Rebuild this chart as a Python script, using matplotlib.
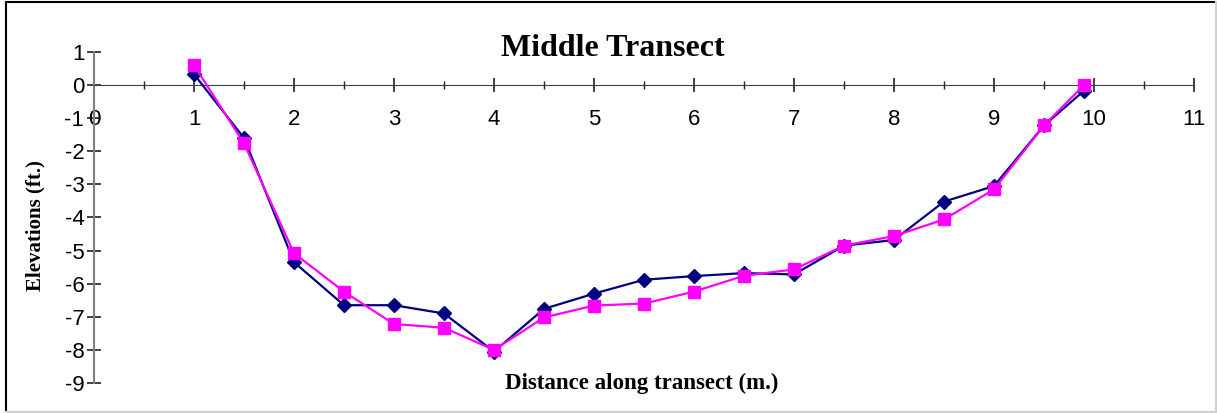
import numpy as np
import matplotlib
matplotlib.use("Agg")
import matplotlib.pyplot as plt
from matplotlib.ticker import MultipleLocator
from matplotlib.lines import Line2D

plt.rcParams["axes.unicode_minus"] = False

# distance along transect (m.)
dist = [1, 1.5, 2, 2.5, 3, 3.5, 4, 4.5, 5, 5.5, 6, 6.5, 7, 7.5, 8, 8.5, 9, 9.5, 9.9]
# two elevation surveys (ft.)
elev_a = [0.33, -1.6, -5.35, -6.65, -6.65, -6.9, -8.05, -6.76, -6.3, -5.88,
          -5.77, -5.68, -5.72, -4.85, -4.68, -3.52, -3.05, -1.22, -0.17]
elev_b = [0.6, -1.76, -5.08, -6.24, -7.22, -7.33, -8.0, -7.02, -6.66, -6.6,
          -6.24, -5.76, -5.57, -4.85, -4.56, -4.06, -3.15, -1.22, 0.0]

x_ticks = list(range(0, 12))
y_ticks = list(range(-9, 2))

fig = plt.figure(figsize=(12.17, 4.13), dpi=100)
ax = fig.add_axes([94 / 1217, 1 - 383 / 413, 1100 / 1217, 331 / 413])

ax.plot(dist, elev_a, color="#000080", marker="D", markersize=7.5, lw=1.6, zorder=3)
ax.plot(dist, elev_b, color="#FF00FF", marker="s", markersize=8.5, lw=1.6, zorder=4)

ax.set_xlim(0, 11)
ax.set_ylim(-9, 1)
ax.spines["top"].set_visible(False)
ax.spines["right"].set_visible(False)
ax.spines["bottom"].set_position(("data", 0))
ax.spines["bottom"].set_color("#404040")
ax.spines["left"].set_color("#808080")
ax.spines["left"].set_linewidth(1.5)

ax.set_xticks(x_ticks)
ax.set_yticks(y_ticks)
ax.xaxis.set_minor_locator(MultipleLocator(0.5))
ax.tick_params(axis="x", which="major", direction="inout", length=10, width=1.2,
               labelsize=16, pad=12, color="#202020")
ax.tick_params(axis="x", which="minor", direction="inout", length=6, width=1,
               color="#202020")
ax.tick_params(axis="y", which="major", direction="inout", length=10, width=1.2,
               labelsize=16, pad=2, color="#202020")
for lab in ax.get_xticklabels() + ax.get_yticklabels():
    lab.set_family("Liberation Sans")

fig.text(613 / 1217, 1 - 49 / 413, "Middle Transect", ha="center", va="center",
         family="Liberation Serif", weight="bold", fontsize=23)
fig.text(642 / 1217, 1 - 383 / 413, "Distance along transect (m.)", ha="center",
         va="center", family="Liberation Serif", weight="bold", fontsize=16.5)
fig.text(35 / 1217, 1 - 226 / 413, "Elevations (ft.)", ha="center", va="center",
         rotation=90, family="Liberation Serif", weight="bold", fontsize=15)

# frame around the chart
fig.add_artist(Line2D([6 / 1217, 6 / 1217], [0, 1 - 2 / 413], color="black", lw=1.5))
fig.add_artist(Line2D([6 / 1217, 1215 / 1217], [1 - 2 / 413, 1 - 2 / 413], color="black", lw=1.5))
fig.add_artist(Line2D([1215.5 / 1217, 1215.5 / 1217], [0, 1 - 2 / 413], color="#d0d0d0", lw=1.5))
fig.add_artist(Line2D([6 / 1217, 1], [1.5 / 413, 1.5 / 413], color="#d0d0d0", lw=1.5))

fig.savefig("out.png", dpi=100)
